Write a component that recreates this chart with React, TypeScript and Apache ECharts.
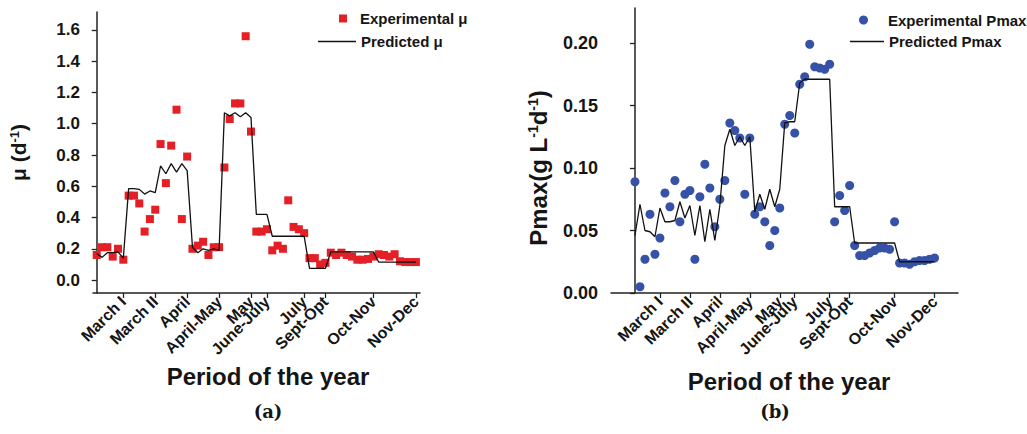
import React, { useEffect, useRef } from 'react';
import * as echarts from 'echarts';

const periodLabels = ['March I', 'March II', 'April', 'April-May', 'May', 'June-July', 'July', 'Sept-Opt', 'Oct-Nov', 'Nov-Dec'];
const periodTicks = [5, 11, 17, 23, 29, 32, 39, 43, 52, 60];

const muTicks = [0, 0.2, 0.4, 0.6, 0.8, 1.0, 1.2, 1.4, 1.6];
const pmaxTicks = [0, 0.05, 0.1, 0.15, 0.2];

const muExperimental = [
  0.16, 0.21, 0.21, 0.15, 0.2, 0.13, 0.54, 0.54, 0.49, 0.31,
  0.39, 0.45, 0.87, 0.62, 0.86, 1.09, 0.39, 0.79, 0.2, 0.22,
  0.245, 0.16, 0.21, 0.21, 0.72, 1.03, 1.13, 1.13, 1.56, 0.95,
  0.31, 0.31, 0.325, 0.19, 0.22, 0.2, 0.51, 0.34, 0.325, 0.3,
  0.14, 0.14, 0.1, 0.11, 0.175, 0.16, 0.175, 0.16, 0.15, 0.13,
  0.13, 0.135, 0.15, 0.165, 0.16, 0.15, 0.165, 0.12, 0.115, 0.115,
  0.115,
];
const muPredicted = [
  0.17, 0.145, 0.175, 0.175, 0.18, 0.14, 0.585, 0.585, 0.58, 0.55,
  0.57, 0.56, 0.73, 0.68, 0.745, 0.69, 0.745, 0.7, 0.21, 0.175,
  0.2, 0.19, 0.2, 0.19, 1.07, 1.05, 1.07, 1.045, 1.07, 1.04,
  0.42, 0.42, 0.42, 0.28, 0.28, 0.28, 0.28, 0.28, 0.28, 0.28,
  0.075, 0.075, 0.075, 0.075, 0.18, 0.18, 0.18, 0.18, 0.18, 0.18,
  0.18, 0.18, 0.18, 0.115, 0.115, 0.115, 0.115, 0.115, 0.115, 0.115,
  0.115,
];
const pmaxExperimental = [
  0.089, 0.005, 0.027, 0.063, 0.031, 0.044, 0.08, 0.069, 0.09, 0.057,
  0.079, 0.082, 0.027, 0.077, 0.103, 0.084, 0.053, 0.075, 0.09, 0.136,
  0.13, 0.124, 0.079, 0.124, 0.063, 0.069, 0.057, 0.038, 0.05, 0.068,
  0.135, 0.142, 0.128, 0.167, 0.173, 0.199, 0.181, 0.18, 0.179, 0.183,
  0.057, 0.078, 0.066, 0.086, 0.038, 0.03, 0.03, 0.032, 0.034, 0.036,
  0.036, 0.035, 0.057, 0.024, 0.024, 0.023, 0.025, 0.026, 0.026, 0.027,
  0.028,
];
const pmaxPredicted = [
  0.046, 0.071, 0.05, 0.049, 0.045, 0.068, 0.057, 0.057, 0.058, 0.073,
  0.06, 0.07, 0.046, 0.07, 0.041, 0.067, 0.042, 0.07, 0.118, 0.131,
  0.118, 0.125, 0.118, 0.125, 0.065, 0.079, 0.067, 0.083, 0.069, 0.083,
  0.136, 0.137, 0.137, 0.168, 0.171, 0.171, 0.171, 0.171, 0.171, 0.171,
  0.069, 0.069, 0.069, 0.069, 0.04, 0.04, 0.04, 0.04, 0.04, 0.04,
  0.04, 0.04, 0.04, 0.025, 0.025, 0.025, 0.025, 0.025, 0.025, 0.025,
  0.025,
];

const FONT = 'Liberation Sans';
const TEXT = '#151515';
const RED = '#e41f26';
const BLUE = '#3652a6';

const toPairs = (arr: number[]) => arr.map((v, i) => [i, v]);

function xAxisFor(gridIndex: number, min: number, max: number) {
  return {
    type: 'value',
    gridIndex,
    min,
    max,
    axisLine: { onZero: false, lineStyle: { color: '#222', width: 1.5 } },
    axisTick: { customValues: periodTicks, length: 5, lineStyle: { color: '#222', width: 1.3 } },
    axisLabel: {
      customValues: periodTicks,
      formatter: (v: number) => periodLabels[periodTicks.indexOf(v)] ?? '',
      rotate: 45,
      margin: 6,
      fontSize: 16,
      fontWeight: 'bold',
      fontFamily: FONT,
      color: TEXT,
      hideOverlap: false,
    },
    splitLine: { show: false },
  };
}

export default function App() {
  const ref = useRef<HTMLDivElement>(null);
  useEffect(() => {
    if (!ref.current) return;
    const chart = echarts.init(ref.current, undefined, { renderer: 'svg' });
    const richName = (fs: number) => ({
      a: { fontSize: fs, fontWeight: 'bold', fontFamily: FONT, fill: TEXT, color: TEXT },
      s: { fontSize: Math.round(fs * 0.6), fontWeight: 'bold', fontFamily: FONT, fill: TEXT, color: TEXT, verticalAlign: 'top' },
    });
    const legendText = { fontSize: 15, fontWeight: 'bold', fontFamily: FONT, color: TEXT };
    const option = {
      animation: false,
      backgroundColor: '#ffffff',
      grid: [
        { left: 93, top: 12, width: 327, height: 281, containLabel: false, outerBoundsMode: 'none' },
        { left: 611, top: 8, width: 347, height: 285, containLabel: false, outerBoundsMode: 'none' },
      ],
      xAxis: [xAxisFor(0, -0.7, 60.77), xAxisFor(1, -4.8, 64.7)],
      yAxis: [
        {
          type: 'value',
          gridIndex: 0,
          min: -0.083,
          max: 1.715,
          name: '{a|μ (d}{s|-1}{a|)}',
          nameLocation: 'middle',
          nameGap: 64,
          nameTextStyle: { rich: richName(21) },
          axisLine: { show: true, lineStyle: { color: '#222', width: 1.5 } },
          axisTick: { show: true, customValues: muTicks, length: 5, lineStyle: { color: '#222', width: 1.3 } },
          axisLabel: {
            customValues: muTicks,
            formatter: (v: number) => v.toFixed(1),
            margin: 13,
            fontSize: 17,
            fontWeight: 'bold',
            fontFamily: FONT,
            color: TEXT,
          },
          splitLine: { show: false },
        },
        {
          type: 'value',
          gridIndex: 1,
          min: 0,
          max: 0.228,
          axisLine: { show: true, lineStyle: { color: '#222', width: 1.5 } },
          axisTick: { show: true, customValues: pmaxTicks, length: 5, lineStyle: { color: '#222', width: 1.3 } },
          axisLabel: {
            customValues: pmaxTicks,
            formatter: (v: number) => v.toFixed(2),
            margin: 13,
            fontSize: 18,
            fontWeight: 'bold',
            fontFamily: FONT,
            color: TEXT,
          },
          splitLine: { show: false },
        },
      ],
      legend: [
        {
          data: ['Experimental μ'], left: 339, top: 11, padding: 0, itemWidth: 8, itemHeight: 8,
          textStyle: { ...legendText, padding: [0, 0, 0, 8] },
        },
        {
          data: [{ name: 'Predicted μ', icon: 'rect' }], left: 318, top: 34, padding: 0, itemWidth: 38, itemHeight: 1.6,
          textStyle: legendText,
        },
        {
          data: ['Experimental Pmax'], left: 859, top: 12.5, padding: 0, itemWidth: 9, itemHeight: 9,
          textStyle: { ...legendText, padding: [0, 0, 0, 15] },
        },
        {
          data: [{ name: 'Predicted Pmax', icon: 'rect' }], left: 850, top: 34, padding: 0, itemWidth: 34, itemHeight: 1.6,
          textStyle: legendText,
        },
      ],
      graphic: [
        {
          type: 'text', x: 538, y: 168, rotation: Math.PI / 2,
          style: {
            text: '{a|Pmax(g L}{s|-1}{a|d}{s|-1}{a|)}',
            rich: richName(24),
            textAlign: 'center', textVerticalAlign: 'middle',
          },
        },
        {
          type: 'text', x: 268, y: 376,
          style: { text: 'Period of the year', fontSize: 24, fontWeight: 'bold', fontFamily: FONT, fill: TEXT, textAlign: 'center', textVerticalAlign: 'middle' },
        },
        {
          type: 'text', x: 789, y: 381,
          style: { text: 'Period of the year', fontSize: 24, fontWeight: 'bold', fontFamily: FONT, fill: TEXT, textAlign: 'center', textVerticalAlign: 'middle' },
        },
        {
          type: 'text', x: 268, y: 411,
          style: { text: '(a)', fontSize: 18, fontWeight: 'bold', fontFamily: 'DejaVu Serif', fill: TEXT, textAlign: 'center', textVerticalAlign: 'middle' },
        },
        {
          type: 'text', x: 775, y: 411,
          style: { text: '(b)', fontSize: 18, fontWeight: 'bold', fontFamily: 'DejaVu Serif', fill: TEXT, textAlign: 'center', textVerticalAlign: 'middle' },
        },
      ],
      series: [
        {
          name: 'Experimental μ', type: 'scatter', xAxisIndex: 0, yAxisIndex: 0,
          symbol: 'rect', symbolSize: 8, itemStyle: { color: RED, opacity: 1 },
          data: toPairs(muExperimental), z: 2,
        },
        {
          name: 'Predicted μ', type: 'line', xAxisIndex: 0, yAxisIndex: 0,
          symbol: 'none', showSymbol: false, lineStyle: { color: '#111', width: 1.3 }, itemStyle: { color: '#111' },
          data: toPairs(muPredicted), z: 3,
        },
        {
          name: 'Experimental Pmax', type: 'scatter', xAxisIndex: 1, yAxisIndex: 1,
          symbol: 'circle', symbolSize: 9, itemStyle: { color: BLUE, opacity: 1 },
          data: toPairs(pmaxExperimental), z: 2,
        },
        {
          name: 'Predicted Pmax', type: 'line', xAxisIndex: 1, yAxisIndex: 1,
          symbol: 'none', showSymbol: false, lineStyle: { color: '#111', width: 1.3 }, itemStyle: { color: '#111' },
          data: toPairs(pmaxPredicted), z: 3,
        },
      ],
    };
    chart.setOption(option as any);
    return () => chart.dispose();
  }, []);
  return (
    <div
      ref={ref}
      style={{ position: 'fixed', left: 0, top: 0, width: 1027, height: 434, background: '#fff' }}
    />
  );
}
